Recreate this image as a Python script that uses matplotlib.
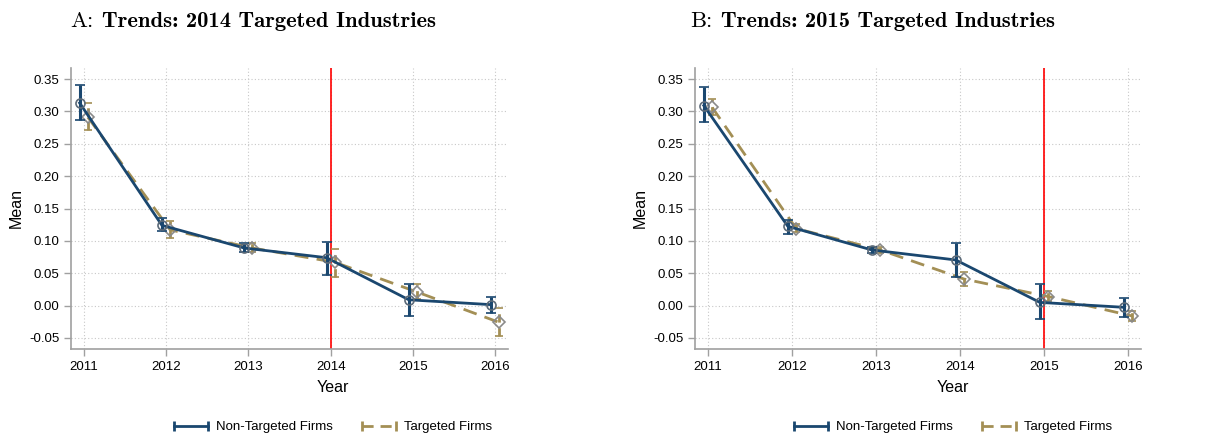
import os
import matplotlib
matplotlib.use("Agg")
import matplotlib.pyplot as plt
from matplotlib.lines import Line2D
from matplotlib.legend_handler import HandlerLine2D
from matplotlib.font_manager import FontProperties

plt.rcParams['font.family'] = ['Liberation Sans', 'DejaVu Sans']

# === DATA ===
years = [2011, 2012, 2013, 2014, 2015, 2016]

# Panel A : 2014 targeted industries
a_non_mean = [0.313, 0.124, 0.089, 0.074, 0.009, 0.0015]
a_non_hi = [0.340, 0.136, 0.096, 0.099, 0.034, 0.014]
a_non_lo = [0.287, 0.115, 0.083, 0.048, -0.016, -0.012]
a_tgt_mean = [0.291, 0.117, 0.089, 0.067, 0.021, -0.026]
a_tgt_hi = [0.313, 0.130, 0.096, 0.088, 0.033, -0.003]
a_tgt_lo = [0.272, 0.104, 0.083, 0.044, 0.010, -0.047]

# Panel B : 2015 targeted industries
b_non_mean = [0.309, 0.1225, 0.086, 0.0705, 0.005, -0.0026]
b_non_hi = [0.337, 0.133, 0.090, 0.097, 0.033, 0.012]
b_non_lo = [0.283, 0.111, 0.082, 0.044, -0.021, -0.018]
b_tgt_mean = [0.306, 0.119, 0.086, 0.041, 0.014, -0.016]
b_tgt_hi = [0.319, 0.126, 0.090, 0.052, 0.022, -0.008]
b_tgt_lo = [0.295, 0.113, 0.081, 0.031, 0.007, -0.023]

yticks = [-0.05, 0.00, 0.05, 0.10, 0.15, 0.20, 0.25, 0.30, 0.35]

BLUE = "#1a476f"
GOLD = "#a38f55"
GRID = "#c8c8c8"
AXIS = "#a0a0a0"

ttf_dir = os.path.join(matplotlib.get_data_path(), "fonts", "ttf")
CM_RM = FontProperties(fname=os.path.join(ttf_dir, "cmr10.ttf"), size=16.3)
CM_BF = FontProperties(fname=os.path.join(ttf_dir, "cmb10.ttf"), size=16.3)


def panel(ax, non, tgt, event_year, xlabel_x, fig):
    off = 0.05
    xs_non = [y - off for y in years]
    xs_tgt = [y + off for y in years]

    ax.axvline(event_year, color="red", lw=1.2, zorder=1)

    m, lo, hi = tgt
    e = ax.errorbar(xs_tgt, m, yerr=[[a - b for a, b in zip(m, lo)], [b - a for a, b in zip(m, hi)]],
                    color=GOLD, lw=2, ls=(0, (5, 3)), elinewidth=2, capsize=3, capthick=2,
                    marker="D", ms=6, mfc="none", mec="#8a8a8a", mew=1.2, zorder=3)
    e[2][0].set_linestyle((0, (3, 2)))

    m, lo, hi = non
    ax.errorbar(xs_non, m, yerr=[[a - b for a, b in zip(m, lo)], [b - a for a, b in zip(m, hi)]],
                color=BLUE, lw=2, elinewidth=2.2, capsize=3.5, capthick=2,
                marker="o", ms=6.5, mfc="none", mec="#5c6a78", mew=1.2, zorder=4)

    ax.set_xlim(2010.845, 2016.155)
    ax.set_ylim(-0.067, 0.367)
    ax.set_xticks(years)
    ax.set_yticks(yticks)
    ax.set_yticklabels([f"{v:.2f}" for v in yticks])
    ax.grid(True, color=GRID, ls=(0, (1, 2)), lw=0.8)
    ax.set_axisbelow(True)
    for s in ["top", "right"]:
        ax.spines[s].set_visible(False)
    for s in ["left", "bottom"]:
        ax.spines[s].set_color(AXIS)
        ax.spines[s].set_linewidth(1.2)
    ax.tick_params(axis="both", colors=AXIS, labelcolor="black", labelsize=9.5, length=5, width=1)
    ax.set_ylabel("Mean", fontsize=11.5, labelpad=4)

    fig.text(xlabel_x, 1 - 387 / 433, "Year", ha="center", va="center", fontsize=11.5)

    h1 = Line2D([0], [0], color=BLUE, lw=2, marker="|", ms=7, mew=2)
    h2 = Line2D([0], [0], color=GOLD, lw=2, ls=(0, (4, 2.5)), marker="|", ms=7, mew=2)
    fig.legend([h1, h2], ["Non-Targeted Firms", "Targeted Firms"], ncol=2, frameon=False,
               loc="center", bbox_to_anchor=(xlabel_x, 1 - 427 / 433), fontsize=9.5,
               handlelength=2.6, columnspacing=2.2, handletextpad=0.6, numpoints=2,
               handler_map={Line2D: HandlerLine2D(marker_pad=0)})


fig = plt.figure(figsize=(12.07, 4.33), dpi=100)
ax_a = fig.add_axes([71 / 1207, 84 / 433, (508 - 71) / 1207, (349 - 68) / 433])
ax_b = fig.add_axes([695 / 1207, 84 / 433, (1141 - 695) / 1207, (349 - 68) / 433])

panel(ax_a, (a_non_mean, a_non_lo, a_non_hi), (a_tgt_mean, a_tgt_lo, a_tgt_hi), 2014, 333 / 1207, fig)
panel(ax_b, (b_non_mean, b_non_lo, b_non_hi), (b_tgt_mean, b_tgt_lo, b_tgt_hi), 2015, 953 / 1207, fig)

# titles: regular letter, bold rest placed right after it
fig.canvas.draw()
renderer = fig.canvas.get_renderer()
W = fig.bbox.width
title_y = 1 - 27 / 433
for x, letter, text in [(70 / 1207, "A", "Trends: 2014 Targeted Industries"),
                        (690 / 1207, "B", "Trends: 2015 Targeted Industries")]:
    t = fig.text(x, title_y, letter + ":", ha="left", va="baseline", fontproperties=CM_RM)
    x1 = t.get_window_extent(renderer).x1
    fig.text((x1 + 9) / W, title_y, text, ha="left", va="baseline", fontproperties=CM_BF)

fig.savefig("out.png", dpi=100)
